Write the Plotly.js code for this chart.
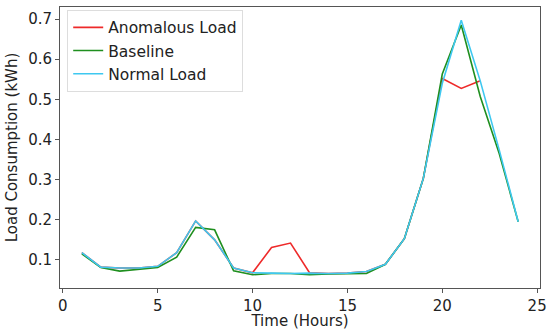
<!DOCTYPE html>
<html><head><meta charset="utf-8">
<script src="https://cdn.plot.ly/plotly-3.0.1.min.js"></script>
<style>body{margin:0;background:#fff}#c{width:550px;height:330px}</style>
</head><body><div id="c"></div>
<script>
const hoursAnom = [1,2,3,4,5,6,7,8,9,10,11,12,13,14,15,16,17,18,19,20,21,22];
const anomalous = [0.118,0.082,0.080,0.080,0.084,0.118,0.197,0.150,0.080,0.068,0.131,0.142,0.068,0.066,0.067,0.071,0.089,0.153,0.303,0.552,0.527,0.546];
const hours = [1,2,3,4,5,6,7,8,9,10,11,12,13,14,15,16,17,18,19,20,21,22,23,24];
const baseline = [0.115,0.081,0.072,0.077,0.081,0.107,0.181,0.175,0.073,0.063,0.066,0.066,0.063,0.065,0.066,0.066,0.089,0.153,0.303,0.563,0.685,0.507,0.365,0.195];
const normal = [0.118,0.082,0.080,0.080,0.084,0.118,0.197,0.150,0.080,0.068,0.067,0.066,0.067,0.066,0.067,0.071,0.089,0.153,0.303,0.540,0.697,0.546,0.374,0.195];
const xTicks = [0,5,10,15,20,25];
const yTicks = [0.1,0.2,0.3,0.4,0.5,0.6,0.7];

const data = [
  {x: hoursAnom, y: anomalous, name: 'Anomalous Load', mode: 'lines', line: {color: '#ee2a2a', width: 1.6}},
  {x: hours, y: baseline, name: 'Baseline', mode: 'lines', line: {color: '#1f8f1f', width: 1.6}},
  {x: hours, y: normal, name: 'Normal Load', mode: 'lines', line: {color: '#3ec8f0', width: 1.6}}
];
const axisCommon = {showgrid: false, zeroline: false, showline: true, mirror: true, linecolor: '#555', linewidth: 1,
  ticks: 'outside', ticklen: 4, tickcolor: '#555', tickfont: {size: 15, color: '#222'}};
const layout = {
  width: 550, height: 330,
  margin: {l: 60, r: 10, t: 7, b: 42},
  font: {family: 'DejaVu Sans, sans-serif', color: '#222'},
  paper_bgcolor: '#fff', plot_bgcolor: '#fff',
  xaxis: Object.assign({}, axisCommon, {range: [-0.15, 25.15], tickvals: xTicks, ticktext: xTicks.map(String),
    title: {text: 'Time (Hours)', font: {size: 15}, standoff: 2}}),
  yaxis: Object.assign({}, axisCommon, {range: [0.030, 0.730], tickvals: yTicks, ticktext: yTicks.map(v => v.toFixed(1)),
    title: {text: 'Load Consumption (kWh)', font: {size: 15}, standoff: 6}}),
  legend: {x: 0.015, y: 0.99, xanchor: 'left', yanchor: 'top', bgcolor: 'rgba(255,255,255,0.85)',
    bordercolor: '#ddd', borderwidth: 1, font: {size: 15.5, color: '#222'}, tracegroupgap: 0, itemwidth: 30},
  showlegend: true
};
Plotly.newPlot('c', data, layout, {displayModeBar: false, staticPlot: true});
</script></body></html>
